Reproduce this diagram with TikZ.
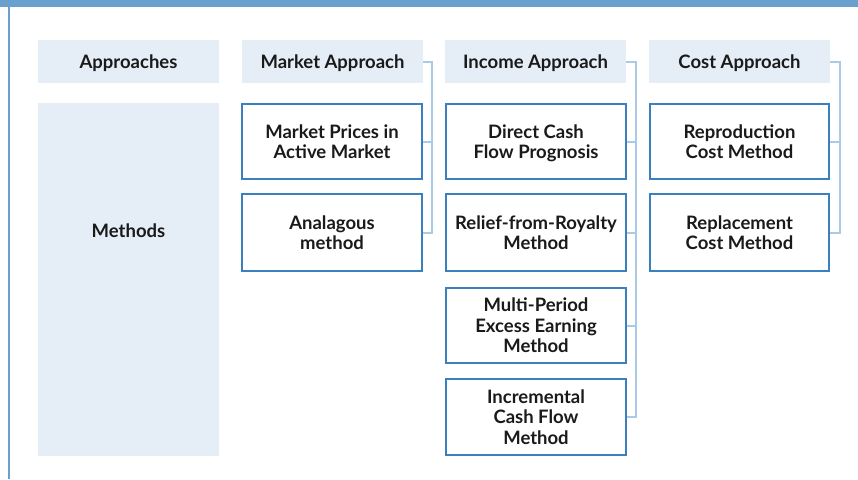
\documentclass[tikz,border=0pt]{standalone}
\usepackage{fontspec}
\setmainfont{Lato}[BoldFont={Lato Bold}]
\definecolor{barblue}{HTML}{6AA0CD}
\definecolor{hdrfill}{HTML}{E5EEF6}
\definecolor{boxblue}{HTML}{3A80BF}
\definecolor{connblue}{HTML}{A9CBE8}
\definecolor{txt}{HTML}{1A1A1A}
\tikzset{
  x=1pt,y=-1pt,
  hdr/.style={fill=hdrfill, minimum width=181pt, minimum height=43pt, inner sep=0pt,
    font=\fontsize{18.5}{20.5}\selectfont\bfseries, text=txt, align=center,
    text height=13.3pt, text depth=0pt},
  mbox/.style={draw=boxblue, line width=2.3pt, fill=white, minimum width=179.5pt, inner sep=0pt,
    font=\fontsize{18.5}{20.5}\selectfont\bfseries, text=txt, align=center, text depth=-4pt},
  conn/.style={draw=connblue, line width=2pt},
  lbl/.style={font=\fontsize{18.5}{20.5}\selectfont\bfseries, text=txt, inner sep=0pt,
    text height=13.3pt, text depth=0pt}
}
\begin{document}
\begin{tikzpicture}
\useasboundingbox (0,0) rectangle (858,479);
\fill[white] (0,0) rectangle (858,479);
\fill[barblue] (0,0) rectangle (858,7);
\fill[barblue] (7.5,7) rectangle (9.5,479);

% headers
\node[hdr] (ap) at (128.5,61.7) {Approaches};
\node[hdr] (mh) at (332.5,61.7) {Market Approach};
\node[hdr] (ih) at (535.5,61.7) {Income Approach};
\node[hdr] (ch) at (739.5,61.7) {Cost Approach};

% methods column
\node[fill=hdrfill, minimum width=181pt, minimum height=353pt, inner sep=0pt] (me) at (128.5,279.5) {};
\node[lbl] (mel) at (128.5,231.3) {Methods};

% connector buses
\coordinate (mbus) at (432.3,0);
\coordinate (ibus) at (636,0);
\coordinate (cbus) at (840,0);

% market boxes
\node[mbox, minimum height=75pt] (m1) at (332,141.5) {Market Prices in\\Active Market};
\node[mbox, minimum height=77pt] (m2) at (332,232.5) {Analagous\\method};
% income boxes
\node[mbox, minimum height=75pt] (i1) at (536,141.5) {Direct Cash\\Flow Prognosis};
\node[mbox, minimum height=77pt] (i2) at (536,232.5) {Relief-from-Royalty\\Method};
\node[mbox, minimum height=75pt] (i3) at (536,325.5) {Multi-Period\\Excess Earning\\Method};
\node[mbox, minimum height=76pt] (i4) at (536,417) {Incremental\\Cash Flow\\Method};
% cost boxes
\node[mbox, minimum height=75pt] (c1) at (739.5,141.5) {Reproduction\\Cost Method};
\node[mbox, minimum height=77pt] (c2) at (739.5,232.5) {Replacement\\Cost Method};

% connectors
\draw[conn] (mh.east) -- (mh.east -| mbus) -- (m2.east -| mbus) -- (m2.east);
\draw[conn] (m1.east) -- (m1.east -| mbus);
\draw[conn] (ih.east) -- (ih.east -| ibus) -- (i4.east -| ibus) -- (i4.east);
\draw[conn] (i1.east) -- (i1.east -| ibus);
\draw[conn] (i2.east) -- (i2.east -| ibus);
\draw[conn] (i3.east) -- (i3.east -| ibus);
\draw[conn] (ch.east) -- (ch.east -| cbus) -- (c2.east -| cbus) -- (c2.east);
\draw[conn] (c1.east) -- (c1.east -| cbus);
\end{tikzpicture}
\end{document}
